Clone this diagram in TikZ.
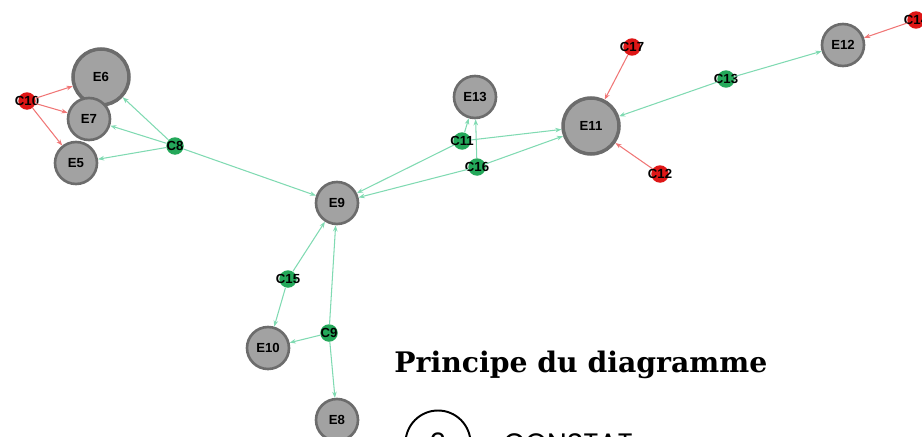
\documentclass[tikz,border=0pt]{standalone}
\usepackage{fontspec}
\setmainfont{Liberation Sans}
\newfontfamily\titlefont{DejaVu Serif}
\newfontfamily\stepfont{Poppins}
\usepackage{tikz}
\usetikzlibrary{arrows.meta}
\definecolor{egrey}{RGB}{162,162,162}
\definecolor{eline}{RGB}{108,108,108}
\definecolor{cgreen}{RGB}{36,168,90}
\definecolor{gline}{RGB}{128,218,178}
\definecolor{cred}{RGB}{222,22,22}
\definecolor{rline}{RGB}{240,118,118}
\newcommand{\tip}{{Stealth[length=3.5pt,width=2.6pt]}}

\begin{document}
\begin{tikzpicture}[x=0.02cm,y=-0.02cm,
  enode/.style={circle,draw=eline,fill=egrey,line width=1.5pt,minimum size=0.84cm,inner sep=0pt,font=\fontsize{7.5}{8}\selectfont\bfseries},
  bignode/.style={enode,minimum size=1.12cm,line width=2pt},
  cnode/.style={circle,inner sep=0pt,minimum size=0.35cm,label={[font=\fontsize{7.5}{8}\selectfont\bfseries]center:#1}},
  gnode/.style={cnode=#1,fill=cgreen},
  rnode/.style={cnode=#1,fill=cred},
  glink/.style={-\tip,gline,line width=0.6pt},
  rlink/.style={-\tip,rline,line width=0.6pt}]
\useasboundingbox (0,0) rectangle (922,436);

% entities
\node[bignode] (E6) at (101,77) {E6};
\node[enode] (E7) at (89,119) {E7};
\node[enode] (E5) at (76,163) {E5};
\node[enode] (E9) at (337,203) {E9};
\node[enode] (E13) at (475,97) {E13};
\node[bignode] (E11) at (591,126) {E11};
\node[enode] (E12) at (843,45) {E12};
\node[enode] (E10) at (268,348) {E10};
\node[enode] (E8) at (337,420) {E8};

% green connectors
\foreach \n/\x/\y in {C8/175/146,C11/462/141,C16/477/167,C13/726/79,C15/288/279,C9/329/333}{
\node[gnode=\n] (\n) at (\x,\y) {};
}
% red connectors
\foreach \n/\x/\y in {C10/27/101,C17/632/47,C12/660/174,C14/916/20}{
\node[rnode=\n] (\n) at (\x,\y) {};
}

\foreach \c/\e in {C8/E6,C8/E7,C8/E5,C8/E9,C11/E13,C11/E11,C11/E9,C16/E13,C16/E11,C16/E9,C13/E12,C13/E11,C15/E9,C15/E10,C9/E9,C9/E10,C9/E8}{
\draw[glink] (\c) -- (\e);
}
\foreach \c/\e in {C10/E6,C10/E7,C10/E5,C17/E11,C12/E11,C14/E12}{
\draw[rlink] (\c) -- (\e);
}

% legend
\node[anchor=base west,inner sep=0pt,font=\titlefont\bfseries\fontsize{16.1}{17}\selectfont] (title) at (394,372) {Principe du diagramme};
\node[circle,draw,line width=1.1pt,minimum size=1.3cm,inner sep=0pt,font=\stepfont\fontsize{16}{16}\selectfont] (num) at (438,443) {2};
\node[anchor=base west,inner sep=0pt,font=\stepfont\fontsize{16}{16}\selectfont] (constat) at (503,453) {CONSTAT};
\end{tikzpicture}
\end{document}
